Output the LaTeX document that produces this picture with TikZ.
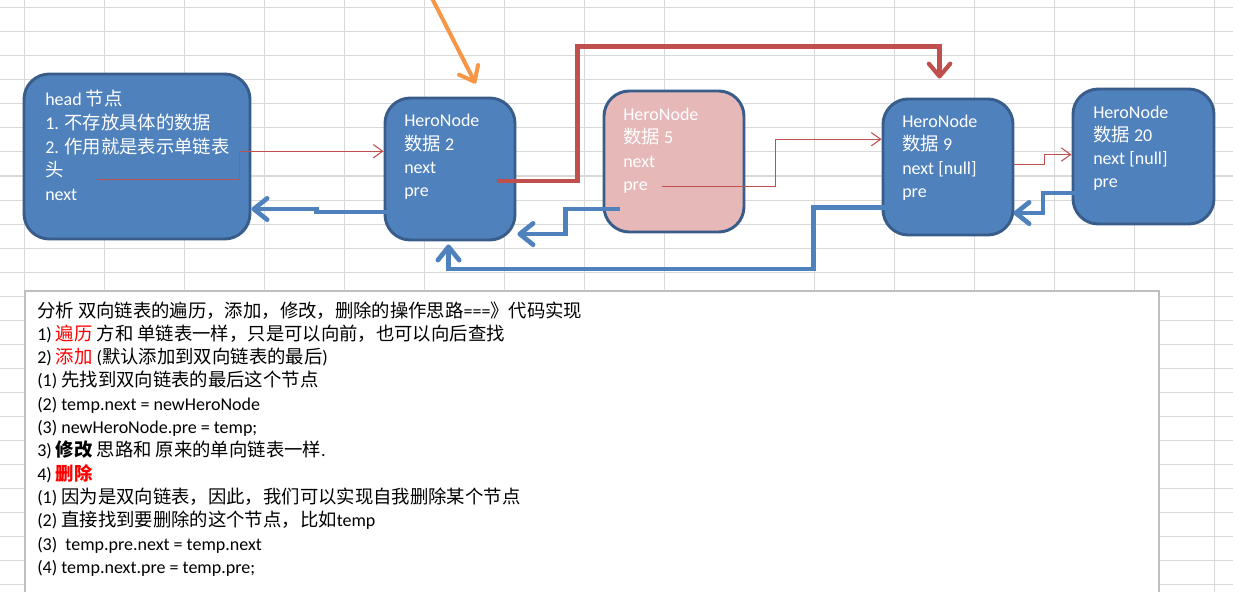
\documentclass[tikz,border=0pt]{standalone}
\usepackage{fontspec}
\setmainfont{Carlito}
\newfontfamily\zhfont{Noto Sans CJK SC}[Scale=1.02]
\newcommand\zh[1]{{\zhfont #1}}
\usetikzlibrary{arrows.meta,calc,fit}
\definecolor{nodeblue}{HTML}{4F81BD}
\definecolor{nodeborder}{HTML}{385D8A}
\definecolor{nodepink}{HTML}{E6B9B8}
\definecolor{linkred}{HTML}{C0504D}
\definecolor{linkorange}{HTML}{F79646}
\definecolor{gridgray}{HTML}{D9D9D9}
\definecolor{boxgray}{HTML}{BFBFBF}
\definecolor{textred}{HTML}{FF0000}
\tikzset{
  herobox/.style={draw=nodeborder, line width=2.2pt, fill=nodeblue, rounded corners=19pt, inner sep=0pt},
  pinkbox/.style={herobox, fill=nodepink},
  ntext/.style={anchor=base west, inner sep=0pt, text=white, font=\fontsize{13.5pt}{17pt}\selectfont},
  btext/.style={anchor=base west, inner sep=0pt, text=black, font=\fontsize{13.5pt}{17pt}\selectfont},
  thinlink/.style={draw=linkred, line width=0.8pt, -{Straight Barb[length=7pt,width=10pt]}},
  redlink/.style={draw=linkred, line width=3.2pt, -{Straight Barb[length=9.5pt,width=16pt,round]}},
  bluelink/.style={draw=nodeblue, line width=3.5pt, -{Straight Barb[length=10pt,width=16pt,round]}},
  orangelink/.style={draw=linkorange, line width=3pt, -{Straight Barb[length=10pt,width=16pt,round]}},
  gridline/.style={draw=gridgray, line width=0.75pt},
  notebox/.style={draw=boxgray, line width=0.8pt, fill=white, inner sep=0pt},
}
\begin{document}
\begin{tikzpicture}[x=0.75pt,y=-0.75pt]
\useasboundingbox (0,0) rectangle (1233,592);
\fill[white] (0,0) rectangle (1233,592);
% spreadsheet grid
\foreach \gy in {8,32,...,584} \draw[gridline] (0,\gy) -- (1233,\gy);
\foreach \gx in {24,104,184,264,344,424,504,584,664,814,894,974,1054,1134,1214} \draw[gridline] (\gx,0) -- (\gx,592);

% notes box
\node[notebox, fit={(25,291) (1159,610)}] (notes) {};
\node[btext] (t0) at (37,317) {\zh{分析 双向链表的遍历，添加，修改，删除的操作思路}===\zh{》代码实现}};
\node[btext] (t1) at (37,340.3) {1) \textcolor{textred}{\zh{遍历}} \zh{方和 单链表一样，只是可以向前，也可以向后查找}};
\node[btext] (t2) at (37,363.6) {2) \textcolor{textred}{\zh{添加}} (\zh{默认添加到双向链表的最后})};
\node[btext] (t3) at (37,386.9) {(1) \zh{先找到双向链表的最后这个节点}};
\node[btext] (t4) at (37,410.2) {(2) temp.next = newHeroNode};
\node[btext] (t5) at (37,433.5) {(3) newHeroNode.pre = temp;};
\node[btext] (t6) at (37,456.8) {3) \zh{\bfseries 修改} \zh{思路和 原来的单向链表一样}.};
\node[btext] (t7) at (37,480.1) {4) \textcolor{textred}{\zh{\bfseries 删除}}};
\node[btext] (t8) at (37,503.4) {(1) \zh{因为是双向链表，因此，我们可以实现自我删除某个节点}};
\node[btext] (t9) at (37,526.7) {(2) \zh{直接找到要删除的这个节点，比如}temp};
\node[btext] (t10) at (37,550) {(3)~ temp.pre.next = temp.next};
\node[btext] (t11) at (37,573.3) {(4) temp.next.pre = temp.pre;};

% nodes
\node[herobox, fit={(24,74) (250,239)}] (head) {};
\node[herobox, fit={(385,98) (515,240)}] (n2) {};
\node[pinkbox, fit={(604,91) (744,232)}] (n5) {};
\node[herobox, fit={(883,99) (1013,235)}] (n9) {};
\node[herobox, fit={(1073,89) (1214,224)}] (n20) {};

\node[ntext] (h1) at (45,106) {head \zh{节点}};
\node[ntext] (h2) at (45,129.5) {1. \zh{不存放具体的数据}};
\node[ntext] (h3) at (45,153) {2. \zh{作用就是表示单链表}};
\node[ntext] (h4) at (45,176.5) {\zh{头}};
\node[ntext] (h5) at (45,200) {next};

\node[ntext] (a1) at (404,127) {HeroNode};
\node[ntext] (a2) at (404,150.2) {\zh{数据} 2};
\node[ntext] (a3) at (404,173.4) {next};
\node[ntext] (a4) at (404,196.6) {pre};

\node[ntext] (b1) at (623,120.7) {HeroNode};
\node[ntext] (b2) at (623,143.9) {\zh{数据} 5};
\node[ntext] (b3) at (623,167.1) {next};
\node[ntext] (b4) at (623,190.3) {pre};

\node[ntext] (c1) at (902,127.7) {HeroNode};
\node[ntext] (c2) at (902,150.9) {\zh{数据} 9};
\node[ntext] (c3) at (902,174.1) {next [null]};
\node[ntext] (c4) at (902,197.3) {pre};

\node[ntext] (d1) at (1093,118.3) {HeroNode};
\node[ntext] (d2) at (1093,141.5) {\zh{数据} 20};
\node[ntext] (d3) at (1093,164.7) {next [null]};
\node[ntext] (d4) at (1093,187.9) {pre};

% thin red next links
\draw[thinlink] ($(head.north west)+(74,107)$) -- ++(143,0) |- ($(n2.north west)+(0,54.7)$);
\draw[thinlink] ($(n5.north west)+(59,97)$) -- ++(114,0) |- ($(n9.north west)+(0,41.7)$);
\draw[thinlink] ($(n9.north east)+(0,67)$) -- ++(30,0) |- ($(n20.north west)+(0,67)$);

% thick red link n2 -> n9
\draw[redlink] ($(n2.north west)+(113,84.5)$) -- ++(81,0) -- ++(0,-134.5) -| ($(n9.north west)+(58,-19)$);

% blue pre links
\draw[bluelink] ($(n2.north west)+(5,115.5)$) -- ++(-72,0) |- ($(head.north east)+(0,136.5)$);
\draw[bluelink] ($(n5.north west)+(17,119.5)$) -- ++(-54,0) |- ($(n2.north east)+(1,137.5)$);
\draw[bluelink] ($(n9.north west)+(12,110)$) -- ++(-80,0) -- ++(0,61.5) -| ($(n2.south west)+(65,3)$);
\draw[bluelink] ($(n20.north west)+(7,105.5)$) -- ++(-35.5,0) |- ($(n9.north east)+(-1,115.5)$);

% orange pointer
\coordinate (otop) at (431.4,-3);
\draw[orangelink] (otop) -- ($(n2.north west)+(92,-13)$);
\end{tikzpicture}
\end{document}
